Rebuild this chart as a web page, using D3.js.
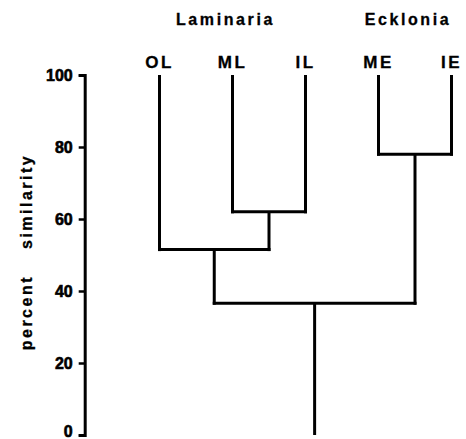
<!DOCTYPE html>
<html>
<head>
<meta charset="utf-8">
<script src="https://cdn.jsdelivr.net/npm/d3@7"></script>
<style>
  html, body { margin: 0; padding: 0; background: #fff; }
  svg { display: block; }
  text { font-family: "Liberation Sans", Arial, sans-serif; font-weight: bold; fill: #000; }
</style>
</head>
<body>
<svg id="chart" width="466" height="439"></svg>
<script>
// ---- data ----
const leaves = ["OL", "ML", "IL", "ME", "IE"];
const nodeIds = ["ML-IL", "OL-MLIL", "ME-IE", "root"];
const nodeChildren = [["ML", "IL"], ["OL", "ML-IL"], ["ME", "IE"], ["OL-MLIL", "ME-IE"]];
const nodeSimilarity = [62, 51.5, 78, 36.6];
const groupNames = ["Laminaria", "Ecklonia"];
const groupMembers = [["OL", "ML", "IL"], ["ME", "IE"]];
const yTicks = [0, 20, 40, 60, 80, 100];
const yTitle = ["percent", "similarity"];

// ---- layout ----
const svg = d3.select("#chart");
const y = d3.scaleLinear().domain([0, 100]).range([435, 75]);
const x = d3.scalePoint().domain(leaves).range([159.5, 451.5]);

// build hierarchy
const childMap = new Map(nodeIds.map((id, i) => [id, nodeChildren[i]]));
const simMap = new Map(nodeIds.map((id, i) => [id, nodeSimilarity[i]]));
function build(id) {
  if (childMap.has(id)) return { id, sim: simMap.get(id), children: childMap.get(id).map(build) };
  return { id, sim: 100 };
}
const root = d3.hierarchy(build("root"));
root.eachAfter(n => {
  n.px = n.children ? d3.mean(n.children, c => c.px) : x(n.data.id);
  n.py = y(n.data.sim);
});

const lw = 3;
const g = svg.append("g").attr("fill", "none").attr("stroke", "#000").attr("stroke-width", lw).attr("stroke-linecap", "square");

root.each(n => {
  if (!n.children) return;
  const xs = n.children.map(c => c.px);
  g.append("line").attr("x1", d3.min(xs)).attr("x2", d3.max(xs)).attr("y1", n.py).attr("y2", n.py);
  n.children.forEach(c => {
    g.append("line").attr("x1", c.px).attr("x2", c.px).attr("y1", c.py + 1.5).attr("y2", n.py);
  });
});
// root stem
g.append("line").attr("x1", root.px).attr("x2", root.px).attr("y1", root.py).attr("y2", y(0)).attr("stroke-linecap", "butt");

// ---- axis ----
const axis = svg.append("g").attr("transform", "translate(84.7,0)")
  .call(d3.axisLeft(y).tickValues(yTicks).tickSize(6).tickSizeOuter(6).tickPadding(6));
axis.select(".domain").attr("stroke-width", lw);
axis.selectAll(".tick line").attr("stroke-width", 2.5);
axis.selectAll(".tick text")
  .attr("font-size", 16).attr("stroke", "#000").attr("stroke-width", 0.6)
  .attr("dy", d => d === 0 ? "0.08em" : "0.32em")
  .style("font-family", "'Liberation Sans', Arial, sans-serif").style("font-weight", "bold").attr("fill", "#000");

// ---- leaf labels ----
svg.append("g").selectAll("text").data(leaves).join("text")
  .attr("x", d => x(d)).attr("y", 68)
  .attr("text-anchor", "middle").attr("font-size", 17).attr("letter-spacing", 2.5)
  .attr("stroke", "#000").attr("stroke-width", 0.3)
  .text(d => d);

// ---- group labels ----
svg.append("g").selectAll("text").data(groupNames).join("text")
  .attr("x", (d, i) => d3.mean(groupMembers[i], m => x(m)) - 7)
  .attr("y", 25)
  .attr("text-anchor", "middle").attr("font-size", 16).attr("letter-spacing", 2.6)
  .attr("stroke", "#000").attr("stroke-width", 0.3)
  .text(d => d);

// ---- y title ----
const t = svg.append("text")
  .attr("transform", "translate(32,252) rotate(-90)")
  .attr("text-anchor", "middle").attr("font-size", 16).attr("letter-spacing", 2.5)
  .attr("stroke", "#000").attr("stroke-width", 0.3);
t.append("tspan").text(yTitle[0]);
t.append("tspan").attr("dx", 26).text(yTitle[1]);
</script>
</body>
</html>
